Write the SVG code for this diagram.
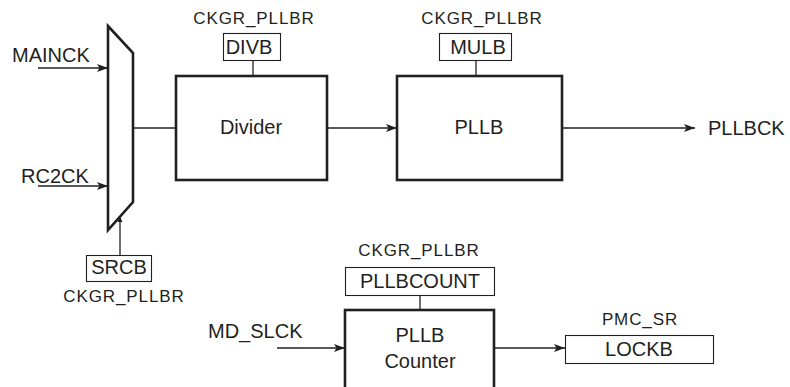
<svg xmlns="http://www.w3.org/2000/svg" width="790" height="387" viewBox="0 0 790 387">
<style>
text{font-family:"Liberation Sans",Arial,sans-serif;fill:#231f20}
.t{font-size:20px}
.s{font-size:17px;letter-spacing:0.9px}
.thick{fill:#fff;stroke:#231f20;stroke-width:2.6}
.thin{fill:#fff;stroke:#231f20;stroke-width:1.1}
.ln{fill:none;stroke:#231f20;stroke-width:1.3}
</style>
<defs>
<marker id="ah" markerWidth="12" markerHeight="10" refX="11" refY="4" orient="auto" markerUnits="userSpaceOnUse">
<path d="M0,0 L11,4 L0,8 L2.5,4 z" fill="#231f20"/>
</marker>
<marker id="ahs" markerWidth="8" markerHeight="8" refX="3" refY="6" orient="auto" markerUnits="userSpaceOnUse">
<path d="M0,0 L6,3 L0,6 z" fill="#231f20" transform="rotate(0)"/>
</marker>
</defs>
<rect width="790" height="387" fill="#fff"/>
<g id="connectors">
<line class="ln" x1="38" y1="68" x2="108" y2="68" marker-end="url(#ah)"/>
<line class="ln" x1="38" y1="186" x2="108" y2="186" marker-end="url(#ah)"/>
<line class="ln" x1="120" y1="256" x2="120" y2="218"/>
<path d="M117.5,222 L120,216.5 L122.5,222 z" fill="#231f20"/>
<line class="ln" x1="133" y1="128" x2="176" y2="128"/>
<line class="ln" x1="253" y1="61" x2="253" y2="76"/>
<line class="ln" x1="327" y1="128" x2="397" y2="128" marker-end="url(#ah)"/>
<line class="ln" x1="476" y1="61" x2="476" y2="76"/>
<line class="ln" x1="562" y1="128" x2="695" y2="128" marker-end="url(#ah)"/>
<line class="ln" x1="420" y1="295" x2="420" y2="310"/>
<line class="ln" x1="277" y1="348" x2="345" y2="348" marker-end="url(#ah)"/>
<line class="ln" x1="494" y1="348" x2="565" y2="348" marker-end="url(#ah)"/>
</g>
<g id="inputs">
<text class="t" x="12" y="62">MAINCK</text>
<text class="t" x="21" y="183">RC2CK</text>
<text class="t" x="208" y="338">MD_SLCK</text>
<text class="t" x="708" y="135">PLLBCK</text>
</g>
<g id="mux">
<polygon class="thick" points="108,26 133,53 133,202 108,230"/>
</g>
<g id="srcb">
<rect class="thin" x="86.5" y="255.5" width="65" height="26"/>
<text class="t" x="119" y="274" text-anchor="middle">SRCB</text>
<text class="s" x="124" y="302" text-anchor="middle">CKGR_PLLBR</text>
</g>
<g id="divider">
<rect class="thick" x="176" y="76" width="151" height="104"/>
<text class="t" x="251" y="134" text-anchor="middle">Divider</text>
</g>
<g id="divb">
<text class="s" x="254" y="24" text-anchor="middle">CKGR_PLLBR</text>
<rect class="thin" x="223.5" y="33.5" width="57" height="27"/>
<text class="t" x="249" y="54" text-anchor="middle">DIVB</text>
</g>
<g id="pllb">
<rect class="thick" x="397" y="76" width="165" height="104"/>
<text class="t" x="479" y="134" text-anchor="middle">PLLB</text>
</g>
<g id="mulb">
<text class="s" x="482" y="24" text-anchor="middle">CKGR_PLLBR</text>
<rect class="thin" x="439.5" y="33.5" width="72" height="27"/>
<text class="t" x="478" y="54" text-anchor="middle">MULB</text>
</g>
<g id="pllbcount">
<text class="s" x="419" y="256" text-anchor="middle">CKGR_PLLBR</text>
<rect class="thin" x="345.5" y="267.5" width="149" height="28"/>
<text class="t" x="420" y="288" text-anchor="middle">PLLBCOUNT</text>
</g>
<g id="counter">
<rect class="thick" x="345" y="310" width="149" height="80"/>
<text class="t" x="420" y="342" text-anchor="middle">PLLB</text>
<text class="t" x="420" y="368" text-anchor="middle">Counter</text>
</g>
<g id="lockb">
<text class="s" x="640" y="325" text-anchor="middle">PMC_SR</text>
<rect class="thin" x="565.5" y="335.5" width="148" height="28"/>
<text class="t" x="639" y="356" text-anchor="middle">LOCKB</text>
</g>
</svg>
